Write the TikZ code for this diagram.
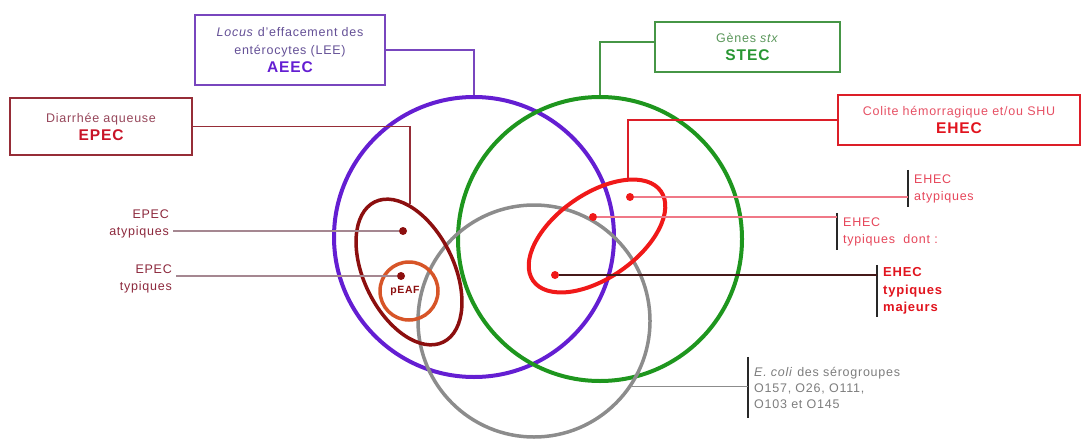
\documentclass[tikz,border=0pt]{standalone}
\usepackage{fontspec}
\setmainfont{Liberation Sans}[LetterSpace=6]
\usepackage{xcolor}
\usetikzlibrary{shapes.geometric}
\definecolor{aeecring}{RGB}{100,30,210}
\definecolor{aeecline}{RGB}{120,70,190}
\definecolor{aeectext}{RGB}{100,80,150}
\definecolor{stecring}{RGB}{30,150,30}
\definecolor{stecline}{RGB}{70,150,70}
\definecolor{stectext}{RGB}{90,150,90}
\definecolor{stecbold}{RGB}{40,150,50}
\definecolor{grayring}{RGB}{140,140,140}
\definecolor{graytext}{RGB}{125,125,125}
\definecolor{epecring}{RGB}{140,15,15}
\definecolor{epecline}{RGB}{150,45,55}
\definecolor{epectext}{RGB}{150,70,90}
\definecolor{epecbold}{RGB}{200,20,40}
\definecolor{epectag}{RGB}{140,40,60}
\definecolor{epeclink}{RGB}{165,135,145}
\definecolor{peafring}{RGB}{215,85,40}
\definecolor{ehecring}{RGB}{240,25,25}
\definecolor{ehecline}{RGB}{220,30,40}
\definecolor{ehectext}{RGB}{230,80,100}
\definecolor{ehecbold}{RGB}{225,20,30}
\definecolor{ehectag}{RGB}{230,70,90}
\definecolor{eheclink}{RGB}{240,120,135}
\definecolor{majlink}{RGB}{70,25,25}
\definecolor{tagbar}{RGB}{40,40,40}
\newcommand\bigb[1]{{\fontsize{15.5}{19}\selectfont\bfseries #1}}
\tikzset{
  ring/.style={line width=4pt, inner sep=0pt},
  group box/.style={
    rectangle,
    draw,
    line width=1.4pt,
    inner sep=0pt,
    align=center,
    font=\fontsize{12.5}{18}\selectfont,
  },
  box link/.style={line width=1.3pt},
  dot/.style={circle, inner sep=0pt, minimum size=8pt},
  tag left/.style={
    anchor=west,
    align=left,
    inner xsep=6pt,
    inner ysep=0pt,
    font=\fontsize{12.5}{17}\selectfont,
  },
  tag right/.style={
    anchor=east,
    align=right,
    inner xsep=4pt,
    inner ysep=0pt,
    font=\fontsize{12.5}{17}\selectfont,
  },
  tag bar/.style={draw=tagbar, line width=1.4pt},
  tag link/.style={line width=1.3pt},
}

\begin{document}
\begin{tikzpicture}[x=1pt,y=1pt]
  \useasboundingbox (0,0) rectangle (1083,-441);

  % the big rings
  \node[ring, circle, draw=aeecring, minimum size=280pt] (aeecring) at (474,-237) {};
  \node[ring, circle, draw=stecring, minimum size=284pt] (stecring) at (600,-239) {};
  \node[ring, circle, draw=grayring, line width=3.5pt, minimum size=232pt] (grayring) at (534,-321) {};

  % EPEC and EHEC ellipses
  \node[ring, ellipse, draw=epecring, line width=3.5pt, minimum width=90pt,
        minimum height=156pt, rotate=26] (epecell) at (409,-272) {};
  \node[ring, circle, draw=peafring, line width=3.5pt, minimum size=58pt] (peafring) at (409,-291) {};
  \node[ring, ellipse, draw=ehecring, minimum width=156pt,
        minimum height=84pt, rotate=35] (ehecell) at (597,-236) {};
  \node[font=\fontsize{10.5}{12}\selectfont\bfseries, text=epecring] (peaf) at (405,-291) {pEAF};

  % boxes
  \node[group box, draw=aeecline, text=aeectext, minimum width=190pt, minimum height=70pt]
    (aeecbox) at (290,-50) {\textit{Locus} d'effacement des\\entérocytes (LEE)\\\textcolor{aeecring}{\bigb{AEEC}}};
  \node[group box, draw=epecline, text=epectext, minimum width=182pt, minimum height=57pt]
    (epecbox) at (101,-126.5) {Diarrhée aqueuse\\\textcolor{epecbold}{\bigb{EPEC}}};
  \node[group box, draw=stecline, text=stectext, minimum width=185pt, minimum height=50pt]
    (stecbox) at (747.5,-47) {Gènes \textit{stx}\\\textcolor{stecbold}{\bigb{STEC}}};
  \node[group box, draw=ehecline, text=ehectext, minimum width=242pt, minimum height=50pt]
    (ehecbox) at (959,-120) {Colite hémorragique et/ou SHU\\\textcolor{ehecbold}{\bigb{EHEC}}};

  \coordinate (epectop) at (410,-204);
  \coordinate (ehectop) at (628,-180);

  \draw[box link, aeecline] (aeecbox.east) -| (aeecring.north);
  \draw[box link, epecline] (epecbox.east) -| (epectop);
  \draw[box link, stecline] ([yshift=5pt]stecbox.west) -| (stecring.north);
  \draw[box link, ehecline] (ehecbox.west) -| (ehectop);

  % tags
  \node[tag right, text=epectag] (epatlab) at (173,-223.5) {EPEC\\atypiques};
  \node[tag right, text=epectag] (eptylab) at (176,-278.5) {EPEC\\typiques};
  \node[tag left, text=ehectag, minimum height=37pt] (ehatlab) at (908,-188.5) {EHEC\\atypiques};
  \node[tag left, text=ehectag, minimum height=37pt] (ehtylab) at (837,-231.5) {EHEC\\typiques\ \ dont :};
  \node[tag left, text=ehecbold, minimum height=52pt, font=\fontsize{13}{17.5}\selectfont\bfseries]
    (ehmalab) at (877,-291) {EHEC\\typiques\\majeurs};
  \node[tag left, text=graytext, minimum height=61pt, font=\fontsize{12.5}{16}\selectfont]
    (serolab) at (748,-387.5) {\textit{E. coli} des sérogroupes\\O157, O26, O111,\\O103 et O145};

  \draw[tag bar] (ehatlab.north west) -- (ehatlab.south west);
  \draw[tag bar] (ehtylab.north west) -- (ehtylab.south west);
  \draw[tag bar] (ehmalab.north west) -- (ehmalab.south west);
  \draw[tag bar] (serolab.north west) -- (serolab.south west);

  % dots
  \node[dot, fill=epecring] (epecatyp) at (403,-231) {};
  \node[dot, fill=epecring] (epectyp) at (401,-276) {};
  \node[dot, fill=ehecring] (ehecatyp) at (630,-197) {};
  \node[dot, fill=ehecring] (ehectyp) at (593,-217) {};
  \node[dot, fill=ehecring] (ehecmaj) at (555,-275) {};

  \draw[tag link, epeclink] (epecatyp) -- (epatlab.east |- epecatyp);
  \draw[tag link, epeclink] (epectyp) -- (eptylab.east |- epectyp);
  \draw[tag link, eheclink] (ehecatyp) -- (ehatlab.west |- ehecatyp);
  \draw[tag link, eheclink] (ehectyp) -- (ehtylab.west |- ehectyp);
  \draw[tag link, majlink] (ehecmaj) -- (ehmalab.west |- ehecmaj);
  \draw[tag link, grayring] (grayring.-34) -- (serolab.west |- grayring.-34);
\end{tikzpicture}
\end{document}
